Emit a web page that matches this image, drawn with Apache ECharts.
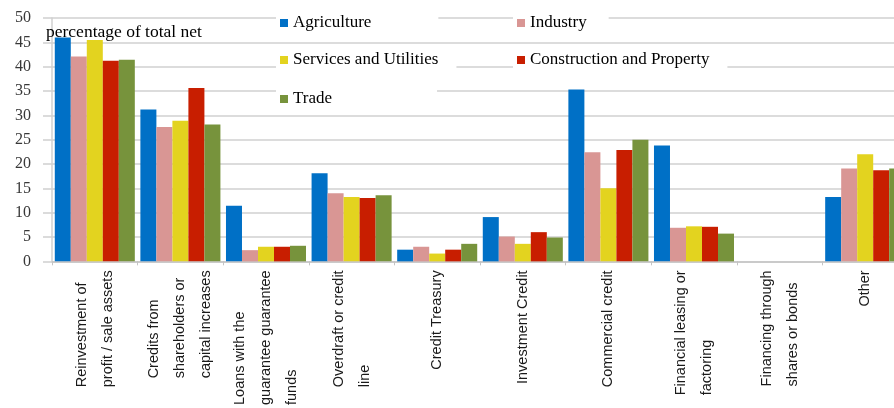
<!DOCTYPE html>
<html>
<head>
<meta charset="utf-8">
<script src="https://cdn.jsdelivr.net/npm/echarts@6/dist/echarts.min.js"></script>
<style>
html,body{margin:0;padding:0;background:#fff;overflow:hidden;}
#chart{width:908px;height:408px;}
</style>
</head>
<body>
<div id="chart"></div>
<script>
const categories = [
  'Reinvestment of\nprofit / sale assets',
  'Credits from\nshareholders or\ncapital increases',
  'Loans with the\nguarantee guarantee\nfunds',
  'Overdraft or credit\nline',
  'Credit Treasury',
  'Investment Credit',
  'Commercial credit',
  'Financial leasing or\nfactoring',
  'Financing through\nshares or bonds',
  'Other'
];
const seriesNames = ['Agriculture', 'Industry', 'Services and Utilities', 'Construction and Property', 'Trade'];
const agriculture  = [46.0, 31.2, 11.4, 18.1, 2.4, 9.1, 35.3, 23.8, 0, 13.2];
const industry     = [42.1, 27.6, 2.3, 14.0, 3.0, 5.1, 22.4, 6.9, 0, 19.1];
const services     = [45.5, 28.9, 3.0, 13.2, 1.6, 3.6, 15.0, 7.2, 0, 22.0];
const construction = [41.2, 35.6, 3.0, 13.0, 2.4, 6.0, 22.9, 7.1, 0, 18.7];
const trade        = [41.4, 28.1, 3.2, 13.6, 3.6, 4.9, 25.0, 5.7, 0, 19.1];
const yTicks = [0, 5, 10, 15, 20, 25, 30, 35, 40, 45, 50];
const yAxisTitle = 'percentage of total net';

const colors = ['#0070C6', '#D99694', '#E3D31F', '#C81E00', '#77933C'];
const values = [agriculture, industry, services, construction, trade];

const serif = 'Liberation Serif, Times New Roman, serif';
const legendText = {fontFamily: serif, fontSize: 17, color: '#000', lineHeight: 18};
function mkLegend(name, left, top, padding) {
  return {
    data: [name], left: left, top: top, orient: 'horizontal',
    icon: 'rect', itemWidth: 8, itemHeight: 8,
    backgroundColor: '#fff', padding: padding,
    textStyle: legendText, selectedMode: false
  };
}

const chart = echarts.init(document.getElementById('chart'), null, {renderer: 'canvas'});
chart.setOption({
  animation: false,
  color: colors,
  title: {
    text: yAxisTitle, left: 46, top: 23, padding: 0,
    textStyle: {fontFamily: serif, fontSize: 17.5, fontWeight: 'normal', color: '#000'}
  },
  legend: [
    mkLegend(seriesNames[0], 276, 12, [2, 67, 2, 4]),
    mkLegend(seriesNames[1], 513, 12, [2, 22, 2, 4]),
    mkLegend(seriesNames[2], 276, 48, [3, 18, 4, 4]),
    mkLegend(seriesNames[3], 513, 48, [3, 18, 4, 4]),
    mkLegend(seriesNames[4], 276, 87, [3, 105, 3, 4])
  ],
  grid: {left: 52, right: 0, top: 18, bottom: 145, containLabel: false},
  xAxis: {
    type: 'category',
    data: categories,
    axisLine: {show: true, lineStyle: {color: '#c4c4c4', width: 1.5}},
    axisTick: {show: true, length: 4, lineStyle: {color: '#c4c4c4'}},
    axisLabel: {
      interval: 0, rotate: 90, margin: 9,
      formatter: function (v) {
        return v.split('\n').map(function (s) { return '{l|' + s + '}'; }).join('\n');
      },
      rich: {
        l: {align: 'left', fontFamily: 'Liberation Sans, Arial, sans-serif', fontSize: 14.5, color: '#1a1a1a', lineHeight: 26}
      }
    }
  },
  yAxis: {
    type: 'value', min: 0, max: 50, interval: 5,
    axisLine: {show: true, lineStyle: {color: '#d0d0d0', width: 1.5}},
    axisTick: {show: true, length: 9, lineStyle: {color: '#d0d0d0', width: 1.5}},
    splitLine: {show: true, lineStyle: {color: '#d0d0d0', width: 1.5}},
    axisLabel: {
      margin: 21, fontFamily: serif, fontSize: 16, color: '#383838',
      formatter: function (v) { return yTicks.indexOf(v) >= 0 ? String(v) : ''; }
    }
  },
  series: seriesNames.map(function (n, i) {
    return {
      name: n, type: 'bar', data: values[i],
      barGap: '0%', barCategoryGap: '6.5%',
      itemStyle: {color: colors[i]}
    };
  })
});
</script>
</body>
</html>
